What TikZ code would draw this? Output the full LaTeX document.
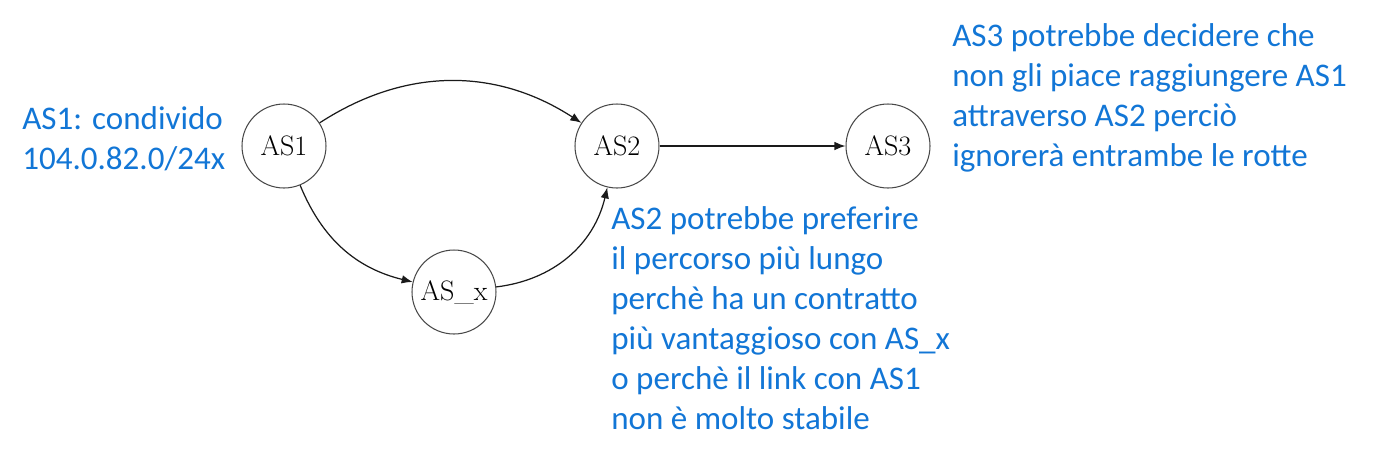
\documentclass[tikz,border=0pt]{standalone}
\usepackage{fontspec}
\newfontfamily\notefont{Carlito}
\usetikzlibrary{positioning,arrows.meta}
\definecolor{note}{HTML}{1276D6}
\definecolor{ink}{HTML}{1A1A1A}

\begin{document}
\begin{tikzpicture}[x=0.02cm, y=-0.02cm, >={Latex[length=2.2mm,width=1.7mm]},
    asnode/.style={draw=ink!80, line width=0.6pt, circle, minimum size=1.68cm, inner sep=0pt,
      font=\fontsize{16}{18}\selectfont},
    link/.style={->, draw=ink, line width=0.7pt},
    notetext/.style={text=note, align=left, inner sep=0pt, anchor=north west,
      font=\notefont\fontsize{18.8}{22.8}\selectfont}]
  \useasboundingbox (0,0) rectangle (1377,464);
  % the four autonomous systems
  \node[asnode] (as1) at (284,146) {AS1};
  \node[asnode] (as2) at (617,146) {AS2};
  \node[asnode] (as3) at (888,146) {AS3};
  \node[asnode] (asx) at (454,292) {AS\_x};
  \draw[link] (as1) to[bend left=33] (as2);
  \draw[link] (as1) to[bend right=27] (asx);
  \draw[link] (asx) to[bend right=35] (as2);
  \draw[link] (as2) -- (as3);
  % notes
  \node[notetext] (n1) at (22,106) {AS1: condivido\\ 104.0.82.0/24x};
  \node[notetext] (n3) at (952,23) {AS3 potrebbe decidere che\\ non gli piace raggiungere AS1\\
    attraverso AS2 perciò\\ ignorerà entrambe le rotte};
  \node[notetext] (n2) at (611,206) {AS2 potrebbe preferire\\ il percorso più lungo\\
    perchè ha un contratto\\ più vantaggioso con AS\_x\\ o perchè il link con AS1\\ non è molto stabile};
\end{tikzpicture}
\end{document}
